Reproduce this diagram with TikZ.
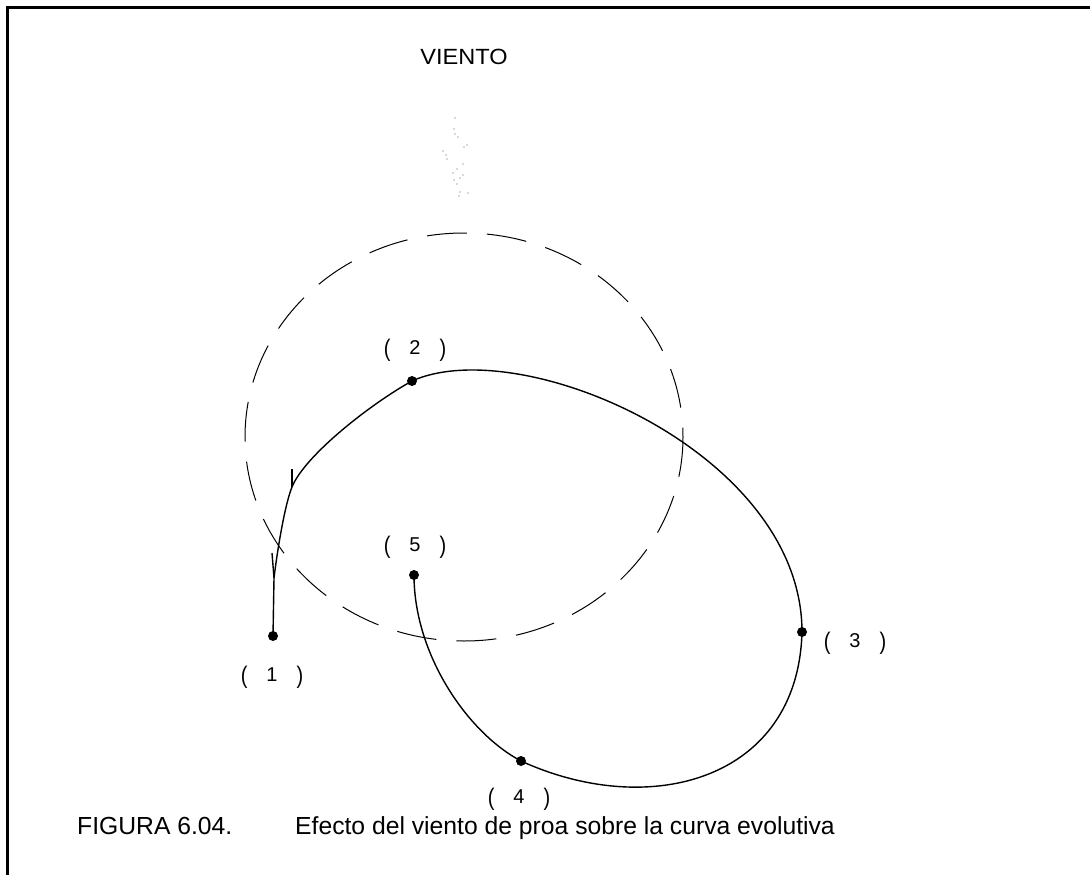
\documentclass[tikz,border=0pt]{standalone}
\usepackage{fontspec}
\setmainfont{Liberation Sans}
\newcommand{\tallparen}[1]{\raisebox{-0.08em}{\scalebox{1}[1.2]{#1}}}
\newcommand{\ptlabel}[1]{\tallparen{(}\hspace{19pt}#1\hspace{19pt}\tallparen{)}}
\begin{document}
\begin{tikzpicture}[x=1pt,y=-1pt,
  curve/.style={line width=1.4pt},
  dot/.style={circle,fill=black,inner sep=0pt,minimum size=10pt},
  lab/.style={font=\fontsize{20}{24}\selectfont, inner sep=0pt},
  captext/.style={font=\fontsize{24.7}{28}\selectfont, inner sep=0pt, anchor=base west},
  dashcirc/.style={line width=1pt, dash pattern=on 40pt off 20pt},
  speck/.style={fill=gray!60},
]
\useasboundingbox (0,0) rectangle (1090,875);
\draw[line width=3pt] (7,875) -- (7,8) -- (1090,8);

% wind title and faint marks
\node[font=\fontsize{22}{26}\selectfont, inner sep=0pt] (viento) at (464,57) {\scalebox{1.07}[1]{VIENTO}};
\foreach \px/\py in {455/118,454/129,455/134,458/137,464/147,467/145,443/151,446/155,447/159,463/164,457/169,453/173,463/175,454/180,460/178,457/184,460/192,468/193,459/196}
  \fill[speck] (\px,\py) circle (0.9);

% dashed circle
\draw[dashcirc] (464,437) ellipse [x radius=219, y radius=204];

% points
\node[dot] (p1) at (273,636) {};
\node[dot] (p2) at (412,381) {};
\node[dot] (p3) at (802,632) {};
\node[dot] (p4) at (521,761) {};
\node[dot] (p5) at (414,575) {};
\coordinate (a) at (272,553);
\coordinate (b) at (274,578);
\coordinate (t) at (292,487);
\coordinate (tk) at (292,469);

\draw[curve] (p1.center) -- (b) -- (a);
\draw[curve] (b) .. controls (277,553) and (284.5,505.5) .. (t)
  .. controls (305,455) and (372,403) .. (p2.center)
  .. controls (521,332) and (802,452) .. (p3.center)
  .. controls (798,780) and (650,820) .. (p4.center)
  .. controls (468,733) and (414,655) .. (p5.center);
\draw[curve] (t) -- (tk);

% labels
\node[lab] (l1) at (272,677) {\ptlabel{1}};
\node[lab] (l2) at (415,350) {\ptlabel{2}};
\node[lab] (l3) at (855,643) {\ptlabel{3}};
\node[lab] (l4) at (519,799) {\ptlabel{4}};
\node[lab] (l5) at (415,547) {\ptlabel{5}};

% caption
\node[captext] (c1) at (77,834) {FIGURA 6.04.};
\node[captext] (c2) at (295,834) {Efecto del viento de proa sobre la curva evolutiva};
\end{tikzpicture}
\end{document}
